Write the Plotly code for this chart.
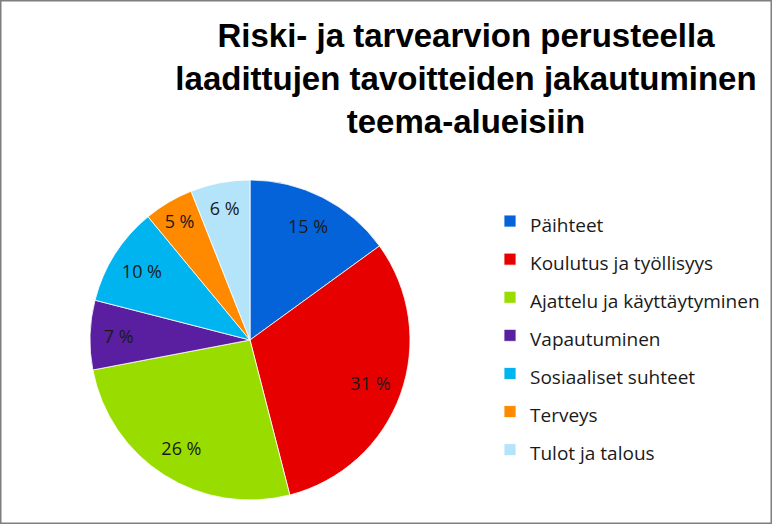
import plotly.graph_objects as go

title_lines = ["Riski- ja tarvearvion perusteella",
               "laadittujen tavoitteiden jakautuminen",
               "teema-alueisiin"]
categories = ["Päihteet", "Koulutus ja työllisyys", "Ajattelu ja käyttäytyminen",
              "Vapautuminen", "Sosiaaliset suhteet", "Terveys", "Tulot ja talous"]
values = [15, 31, 26, 7, 10, 5, 6]
colors = ["#0563DA", "#E60000", "#99DD00", "#5A1FA0", "#00B4F0", "#FF8A00", "#B4E4FA"]

W, H = 772, 524
FONT = "Liberation Sans Narrow, Arial Narrow, Liberation Sans, sans-serif"
LFONT = "Open Sans"
dom = dict(x=[(250 - 160) / W, (250 + 160) / W],
           y=[(524 - 340 - 160) / H, (524 - 340 + 160) / H])
legend_labels = [f'<span style="font-size:19px">{c}</span>' for c in categories]

fig = go.Figure()
# coloured slices
fig.add_trace(go.Pie(
    labels=legend_labels, values=values, sort=False,
    direction="clockwise", rotation=0,
    marker=dict(colors=colors, line=dict(color="white", width=0.8)),
    textinfo="none", hoverinfo="label+value", domain=dom,
))
# value labels placed toward the outer part of each slice
fig.add_trace(go.Pie(
    labels=legend_labels, values=values, sort=False,
    direction="clockwise", rotation=0, hole=0.6,
    marker=dict(colors=["rgba(0,0,0,0)"] * len(values),
                line=dict(color="rgba(0,0,0,0)", width=0)),
    texttemplate="%{value} %", textposition="inside",
    insidetextorientation="horizontal",
    textfont=dict(size=18, color="#1a1a1a", family=LFONT),
    hoverinfo="skip", showlegend=False, domain=dom,
))

fig.update_layout(
    width=W, height=H,
    margin=dict(l=0, r=0, t=0, b=0),
    paper_bgcolor="white",
    title=dict(text="<br>".join(title_lines),
               x=466 / W, xanchor="center",
               y=1 - 47 / H, yanchor="top",
               font=dict(family=FONT, size=33, color="black", weight="bold")),
    legend=dict(x=490 / W, xanchor="left",
                y=1 - 197 / H, yanchor="top",
                font=dict(family=LFONT, size=27, color="#1a1a1a"),
                bgcolor="rgba(0,0,0,0)"),
    shapes=[dict(type="rect", xref="paper", yref="paper", x0=0, y0=0, x1=1, y1=1,
                 line=dict(color="#7f7f7f", width=3))],
)

fig.write_html("out.html")
